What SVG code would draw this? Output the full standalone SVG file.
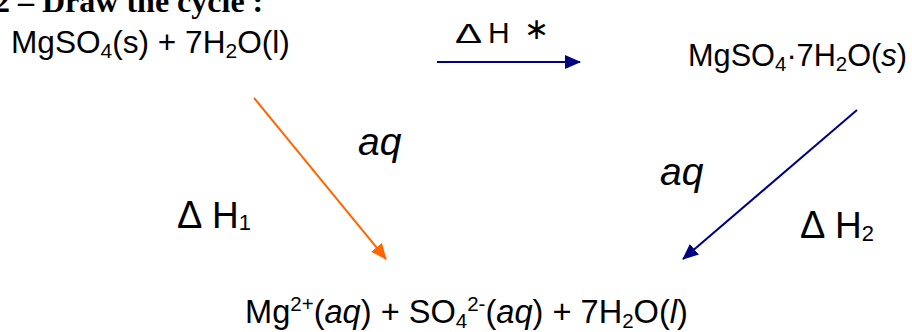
<svg xmlns="http://www.w3.org/2000/svg" width="912" height="332" viewBox="0 0 912 332">
<defs>
<marker id="hb" markerWidth="16" markerHeight="14" refX="15" refY="7" orient="auto" markerUnits="userSpaceOnUse" viewBox="0 0 16 14"><path d="M0,0 L16,7 L0,14 Z" fill="#000080"/></marker>
<marker id="ho" markerWidth="16" markerHeight="14" refX="15" refY="7" orient="auto" markerUnits="userSpaceOnUse" viewBox="0 0 16 14"><path d="M0,0 L16,7 L0,14 Z" fill="#FF6600"/></marker>
</defs>
<style>
.t{font-family:"Liberation Sans",Arial,sans-serif;fill:#000}
.h{font-family:"Liberation Serif","Times New Roman",serif;font-size:32px;font-weight:bold;fill:#000}
.i{font-style:italic}
.b{stroke:#000080;stroke-width:2;fill:none}
.o{stroke:#FF6600;stroke-width:2;fill:none}
</style>
<rect width="912" height="332" fill="#fff"/>
<text class="h" x="-6" y="12">2 – Draw the cycle :</text>
<g id="reactants"><text class="t" x="11" y="53" style="font-size:31.6px">MgSO<tspan style="font-size:21px" dy="5">4</tspan><tspan dy="-5">(s) + 7H</tspan><tspan style="font-size:21px" dy="5">2</tspan><tspan dy="-5">O(l)</tspan></text></g>
<g id="hydrate"><text class="t" x="688" y="66" style="font-size:30.7px">MgSO<tspan style="font-size:20.5px" dy="5">4</tspan><tspan dy="-5">·7H</tspan><tspan style="font-size:20.5px" dy="5">2</tspan><tspan dy="-5">O(</tspan><tspan class="i">s</tspan>)</text></g>
<g id="ions"><text class="t" x="245" y="323" style="font-size:32.6px">Mg<tspan style="font-size:20.5px" dy="-12">2+</tspan><tspan dy="12">(</tspan><tspan class="i">aq</tspan>) + SO<tspan style="font-size:20.5px" dy="5">4</tspan><tspan style="font-size:20.5px" dy="-17">2-</tspan><tspan dy="12">(</tspan><tspan class="i">aq</tspan>) + 7H<tspan style="font-size:20.5px" dy="5">2</tspan><tspan dy="-5">O(</tspan><tspan class="i">l</tspan>)</text></g>
<g id="connectors">
<line class="b" x1="437" y1="62" x2="580" y2="62" marker-end="url(#hb)"/>
<line class="o" x1="254" y1="98" x2="386" y2="259" marker-end="url(#ho)"/>
<line class="b" x1="857" y1="110" x2="683" y2="259" marker-end="url(#hb)"/>
</g>
<g id="labels">
<text class="t" style="font-size:27px" transform="translate(455,43) scale(1.5,1)">Δ</text>
<text class="t" style="font-size:30px" x="488" y="43">H</text>
<text class="t" style="font-size:30px" x="524" y="39">∗</text>
<text class="t i" style="font-size:39px" x="358" y="155">aq</text>
<text class="t i" style="font-size:39px" x="660" y="185">aq</text>
<text class="t" style="font-size:38px" x="177" y="228">Δ</text>
<text class="t" style="font-size:37px" x="212" y="228">H<tspan style="font-size:22px" dy="2">1</tspan></text>
<text class="t" style="font-size:38px" x="800" y="238">Δ</text>
<text class="t" style="font-size:37px" x="835" y="238">H<tspan style="font-size:22px" dy="3">2</tspan></text>
</g>
</svg>
